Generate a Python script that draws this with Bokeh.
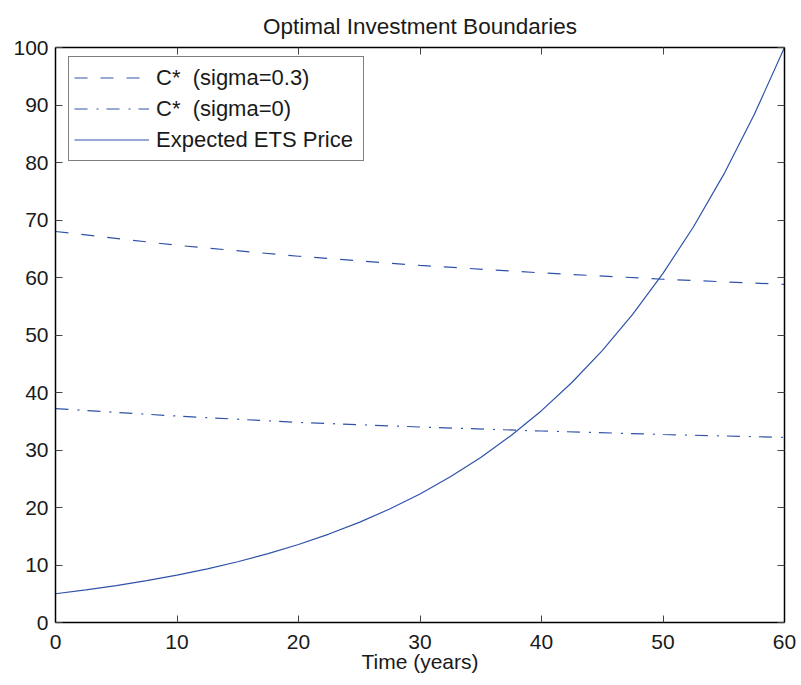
from bokeh.plotting import figure
from bokeh.models import LinearAxis, Legend, LegendItem, Title, FixedTicker, Range1d
from bokeh.embed import file_html
from bokeh.resources import INLINE

# ---- data ----
t_sigma = [0, 10, 20, 30, 40, 50, 60]
c_sigma03 = [68.0, 65.6, 63.7, 62.1, 60.8, 59.7, 58.8]
c_sigma0 = [37.2, 35.9, 34.8, 34.0, 33.3, 32.7, 32.2]

t_ets = [0, 2.5, 5, 7.5, 10, 12.5, 15, 17.5, 20, 22.5, 25, 27.5, 30,
         32.5, 35, 37.5, 40, 42.5, 45, 47.5, 50, 52.5, 55, 57.5, 60]
ets_price = [5.00, 5.66, 6.42, 7.27, 8.24, 9.33, 10.57, 11.98, 13.57, 15.38,
             17.42, 19.74, 22.36, 25.34, 28.71, 32.52, 36.84, 41.74, 47.29,
             53.58, 60.71, 68.78, 77.93, 88.29, 100.0]

x_ticks = [0, 10, 20, 30, 40, 50, 60]
y_ticks = [0, 10, 20, 30, 40, 50, 60, 70, 80, 90, 100]

title_text = "Optimal Investment Boundaries"
xlabel = "Time (years)"
labels = ["C*  (sigma=0.3)", "C*  (sigma=0)", "Expected ETS Price"]

FONT = "Liberation Sans"
LINE = "#2f52a8"
TXT = "#1a1a1a"

p = figure(width=801, height=685, output_backend="svg", toolbar_location=None,
           x_range=Range1d(0, 60), y_range=Range1d(0, 100),
           x_axis_location=None, y_axis_location=None,
           min_border_left=55, min_border_right=17, min_border_top=47,
           min_border_bottom=63)
p.outline_line_color = None
p.xgrid.visible = False
p.ygrid.visible = False
p.background_fill_color = "white"
p.border_fill_color = "white"

r1 = p.line(t_sigma, c_sigma03, line_color=LINE, line_width=1.2, line_dash="13 13")
r2 = p.line(t_sigma, c_sigma0, line_color=LINE, line_width=1.2, line_dash="13 9 2 8")
r3 = p.line(t_ets, ets_price, line_color=LINE, line_width=1.2)


def style_axis(ax, ticks, show_labels=True):
    ax.ticker = FixedTicker(ticks=ticks)
    ax.axis_line_color = "black"
    ax.axis_line_width = 1.5
    ax.major_tick_in = 7
    ax.major_tick_out = 0
    ax.minor_tick_line_color = None
    ax.major_tick_line_color = "#444444"
    ax.major_tick_line_width = 1
    ax.major_label_text_font = FONT
    ax.major_label_text_font_size = "21px"
    ax.major_label_text_color = TXT
    ax.axis_label_text_font = FONT
    ax.axis_label_text_font_size = "21px"
    ax.axis_label_text_font_style = "normal"
    ax.axis_label_text_color = TXT
    if not show_labels:
        ax.major_label_text_font_size = "0px"
        ax.major_label_text_alpha = 0
        ax.major_label_standoff = 0


xb = LinearAxis(axis_label=xlabel)
style_axis(xb, x_ticks)
xb.major_label_standoff = 12
xb.axis_label_standoff = -2
xt = LinearAxis()
style_axis(xt, x_ticks, False)
yl = LinearAxis()
style_axis(yl, y_ticks)
yl.major_label_standoff = 7
yr = LinearAxis()
style_axis(yr, y_ticks, False)

p.add_layout(xb, "below")
p.add_layout(xt, "above")
p.add_layout(yl, "left")
p.add_layout(yr, "right")

legend = Legend(items=[LegendItem(label=labels[0], renderers=[r1]),
                       LegendItem(label=labels[1], renderers=[r2]),
                       LegendItem(label=labels[2], renderers=[r3])],
                location=(13, 461))
legend.border_line_color = "black"
legend.border_line_width = 1.2
legend.background_fill_color = "white"
legend.background_fill_alpha = 1
legend.label_text_font = FONT
legend.label_text_font_size = "22px"
legend.label_text_color = TXT
legend.glyph_width = 75
legend.glyph_height = 31
legend.label_height = 31
legend.label_width = 202
legend.spacing = 0
legend.padding = 5
legend.margin = 0
legend.label_standoff = 7
p.add_layout(legend, "center")

p.title = Title(text=title_text, align="center", text_font=FONT,
                text_font_size="22.5px", text_font_style="normal",
                text_color=TXT, standoff=18)

open("out.html", "w").write(file_html(p, INLINE))
